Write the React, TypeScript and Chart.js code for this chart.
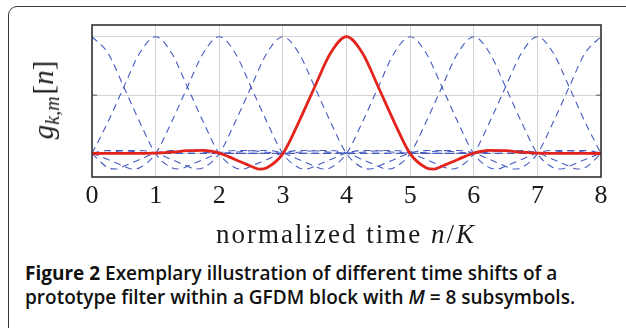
import React, { useEffect, useRef } from "react";
import { Chart, registerables } from "chart.js";

Chart.register(...registerables);

// ---- data ----
const xTickValues = [0, 1, 2, 3, 4, 5, 6, 7, 8];
const yTickValues = [0, 0.5, 1];
const blockLength = 8; // M = 8 subsymbols (circular block)

// prototype filter (one side, symmetric), offset from pulse centre in units of K
const protoOffsets = [0, 0.25, 0.5, 0.75, 1, 1.25, 1.375, 1.5, 1.75, 2, 2.25, 2.5, 2.75, 3, 3.5, 4];
const protoValues = [1, 0.86, 0.57, 0.27, 0, -0.12, -0.132, -0.108, -0.05, 0.005, 0.027, 0.025, 0.012, 0.004, 0.002, 0.001];

const redShift = 4;
const blueShifts = [0, 1, 2, 3, 5, 6, 7];

type Pt = { x: number; y: number };

function shiftedPulse(shift: number): Pt[] {
  const raw: Pt[] = [];
  const add = (d: number, v: number) => {
    let x = shift + d;
    if (x < 0) x += blockLength;
    if (x > blockLength) x -= blockLength;
    raw.push({ x, y: v });
    if (x === 0) raw.push({ x: blockLength, y: v });
    if (x === blockLength) raw.push({ x: 0, y: v });
  };
  for (let i = protoOffsets.length - 1; i > 0; i--) add(-protoOffsets[i], protoValues[i]);
  for (let i = 0; i < protoOffsets.length; i++) add(protoOffsets[i], protoValues[i]);
  raw.sort((a, b) => a.x - b.x);
  const out: Pt[] = [];
  for (const p of raw) {
    if (out.length && Math.abs(out[out.length - 1].x - p.x) < 1e-9) continue;
    out.push(p);
  }
  return out;
}

const RED = "rgb(226,36,28)";
const BLUE = "rgb(70,90,192)";

const framePlugin = {
  id: "frame",
  afterDatasetsDraw(chart: any) {
    const { ctx, chartArea: a, scales } = chart;
    ctx.save();
    ctx.strokeStyle = "#555";
    ctx.lineWidth = 1;
    const yMid = scales.y.getPixelForValue(0.5);
    ctx.beginPath();
    ctx.moveTo(a.left, yMid);
    ctx.lineTo(a.left + 5, yMid);
    ctx.moveTo(a.right, yMid);
    ctx.lineTo(a.right - 5, yMid);
    ctx.stroke();
    ctx.strokeStyle = "#333";
    ctx.lineWidth = 1.6;
    ctx.strokeRect(a.left, a.top, a.right - a.left, a.bottom - a.top);
    ctx.restore();
  },
};

export default function App() {
  const canvasRef = useRef<HTMLCanvasElement | null>(null);

  useEffect(() => {
    if (!canvasRef.current) return;
    const datasets: any[] = [
      {
        data: shiftedPulse(redShift),
        borderColor: RED,
        borderWidth: 2.8,
        pointRadius: 0,
        cubicInterpolationMode: "monotone",
        fill: false,
      },
      ...blueShifts.map((s) => ({
        data: shiftedPulse(s),
        borderColor: BLUE,
        borderWidth: 1.1,
        borderDash: [7, 5],
        pointRadius: 0,
        cubicInterpolationMode: "monotone",
        fill: false,
      })),
    ];
    const chart = new Chart(canvasRef.current, {
      type: "line",
      data: { datasets },
      plugins: [framePlugin],
      options: {
        animation: false,
        responsive: false,
        events: [],
        layout: { padding: { top: 25, right: 25, left: 0, bottom: 0 } },
        plugins: { legend: { display: false }, tooltip: { enabled: false } },
        scales: {
          x: {
            type: "linear",
            min: 0,
            max: 8,
            afterBuildTicks: (s: any) => {
              s.ticks = xTickValues.map((v) => ({ value: v }));
            },
            afterFit: (s: any) => {
              s.height = 230 - 177;
            },
            grid: { color: "#d4d4d4", lineWidth: 1, drawTicks: false },
            border: { display: false },
            ticks: {
              padding: 4,
              color: "#1a1a1a",
              font: { family: "'Liberation Serif', serif", size: 26 },
              callback: (v: any) => String(v),
            },
          },
          y: {
            type: "linear",
            min: -0.2,
            max: 1.1,
            afterBuildTicks: (s: any) => {
              s.ticks = yTickValues.map((v) => ({ value: v }));
            },
            afterFit: (s: any) => {
              s.width = 92;
            },
            grid: { color: "#d4d4d4", lineWidth: 1, drawTicks: false },
            border: { display: false },
            ticks: { display: false },
          },
        },
      } as any,
    });
    return () => chart.destroy();
  }, []);

  return (
    <div
      style={{
        position: "absolute",
        left: 0,
        top: 0,
        width: 626,
        height: 328,
        overflow: "hidden",
        background: "#fff",
      }}
    >
      <div
        style={{
          position: "absolute",
          left: 8,
          top: 6,
          width: 700,
          height: 400,
          border: "1.5px solid #3a3a3a",
          borderRadius: 9,
          boxSizing: "border-box",
        }}
      />
      <canvas
        ref={canvasRef}
        width={626}
        height={230}
        style={{ position: "absolute", left: 0, top: 0, width: 626, height: 230 }}
      />
      <div
        style={{
          position: "absolute",
          left: 48,
          top: 100,
          transform: "translate(-50%, -50%) rotate(-90deg)",
          whiteSpace: "nowrap",
          fontFamily: "'Liberation Serif', serif",
          fontSize: 29,
          lineHeight: "29px",
          color: "#1a1a1a",
        }}
      >
        <i>g</i>
        <sub style={{ fontSize: 20, verticalAlign: "-6px" }}>
          <i>k</i>,<i>m</i>
        </sub>
        <span style={{ marginLeft: 2 }}>[</span>
        <i>n</i>]
      </div>
      <div
        style={{
          position: "absolute",
          left: 346,
          top: 221,
          transform: "translateX(-50%)",
          whiteSpace: "nowrap",
          fontFamily: "'Liberation Serif', serif",
          fontSize: 27,
          lineHeight: "26px",
          letterSpacing: "2px",
          color: "#1a1a1a",
        }}
      >
        normalized time <i>n</i>/<i>K</i>
      </div>
      <div
        style={{
          position: "absolute",
          left: 25,
          top: 261,
          whiteSpace: "nowrap",
          fontFamily: "'Open Sans', sans-serif",
          fontSize: 19,
          lineHeight: "24px",
          fontWeight: 600,
          color: "#111",
        }}
      >
        <span style={{ fontWeight: 700 }}>Figure 2</span> Exemplary illustration of different time shifts of a
        <br />
        prototype filter within a GFDM block with <i>M</i> = 8 subsymbols.
      </div>
    </div>
  );
}
